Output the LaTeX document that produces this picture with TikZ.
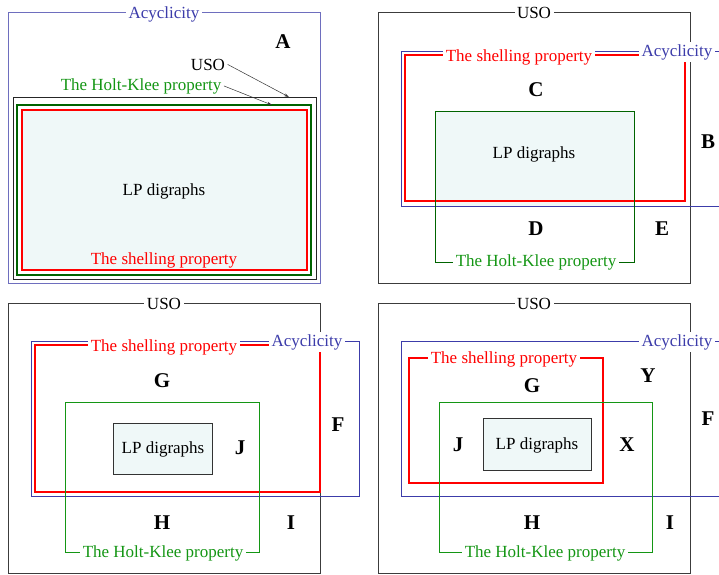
\documentclass[tikz,border=0pt]{standalone}
\usepackage{fontspec}
\setmainfont{Liberation Serif}
\usetikzlibrary{arrows.meta}
\definecolor{acyc}{RGB}{60,60,170}
\definecolor{acycl}{RGB}{110,110,190}
\definecolor{hk}{RGB}{20,150,20}
\definecolor{hkdark}{RGB}{0,100,0}
\definecolor{lpfill}{RGB}{239,248,248}
\definecolor{usog}{RGB}{60,60,60}
\tikzset{
  lbl/.style={font=\fontsize{17}{20}\selectfont, anchor=base, inner sep=2.5pt},
  lblw/.style={lbl, fill=white},
  big/.style={font=\fontsize{21}{24}\selectfont\bfseries, anchor=base, inner sep=1pt},
  acycbox/.style={draw=acycl, line width=0.9pt},
  shellbox/.style={draw=red, line width=2.4pt},
  hkbox/.style={draw=hk, line width=0.9pt},
  usobox/.style={draw=usog, line width=1pt},
  lpbox/.style={draw=black!80, line width=0.8pt, fill=lpfill},
  arr/.style={-{Stealth[length=5pt,width=3pt]}, line width=0.5pt, black!80}
}
\begin{document}
\begin{tikzpicture}[x=1pt,y=-1pt]
\clip (0,0) rectangle (719,574);
\fill[white] (0,0) rectangle (719,574);

% ---------------- Panel 1 (top-left) ----------------
\draw[acycbox] (8,12) rectangle (320,283);
\draw[black!85, line width=1pt] (13,97) rectangle (316,279);
\draw[hkdark, line width=1.8pt] (17,105) rectangle (311,275);
\fill[lpfill] (22,110) rectangle (307,270);
\draw[shellbox, line width=2.2pt] (22,110) rectangle (307,270);
\node[lblw, text=acyc] (acycA) at (164,18) {Acyclicity};
\node[big] (lA) at (283,48) {A};
\node[lbl] (usoA) at (208,70) {USO};
\node[lbl, text=hk] (hkA) at (141,90) {The Holt-Klee property};
\node[lbl] (lpA) at (164,195) {LP digraphs};
\node[lbl, text=red] (shA) at (164,264) {The shelling property};
\coordinate (usoAt) at (289,97);
\coordinate (hkAt) at (272,105);
\draw[arr] (usoA.east) -- (usoAt);
\draw[arr] (hkA.east) -- (hkAt);

% ---------------- Panel 2 (top-right) ----------------
\draw[usobox] (378,12) rectangle (690,283);
\fill[lpfill] (435,111) rectangle (634,206);
\draw[acycbox, draw=acyc] (401,51) rectangle (730,206);
\draw[shellbox] (405,55) rectangle (685,201);
\draw[hkbox, draw=hkdark] (435,111) rectangle (634,262);
\node[lblw] (usoB) at (534,18) {USO};
\node[lblw, text=red] (shB) at (519,61) {The shelling property};
\node[lblw, text=acyc] (acycB) at (677,56) {Acyclicity};
\node[lblw, text=hk] (hkB) at (536,266) {The Holt-Klee property};
\node[lbl] (lpB) at (534,158) {LP digraphs};
\node[big] (lC) at (536,96) {C};
\node[big] (lB) at (708,148) {B};
\node[big] (lD) at (536,235) {D};
\node[big] (lE) at (662,235) {E};

% ---------------- Panel 3 (bottom-left) ----------------
\draw[usobox] (8,303) rectangle (320,573);
\draw[acycbox, draw=acyc] (31,341) rectangle (359,496);
\draw[shellbox] (35,345) rectangle (320,492);
\draw[hkbox] (65,402) rectangle (259,552);
\draw[lpbox] (113,423) rectangle (212,474);
\node[lblw] (usoC) at (164,309) {USO};
\node[lblw, text=red] (shC) at (164,351) {The shelling property};
\node[lblw, text=acyc] (acycC) at (307,346) {Acyclicity};
\node[lblw, text=hk] (hkC) at (163,557) {The Holt-Klee property};
\node[lbl] (lpC) at (163,453) {LP digraphs};
\node[big] (lG) at (162,387) {G};
\node[big] (lJ) at (240,454) {J};
\node[big] (lF) at (338,431) {F};
\node[big] (lH) at (162,529) {H};
\node[big] (lI) at (291,529) {I};

% ---------------- Panel 4 (bottom-right) ----------------
\draw[usobox] (378,303) rectangle (690,573);
\draw[acycbox, draw=acyc] (401,341) rectangle (730,496);
\draw[shellbox] (409,358) rectangle (603,483);
\draw[hkbox] (439,402) rectangle (652,552);
\draw[lpbox] (483,418) rectangle (591,470);
\node[lblw] (usoD) at (534,309) {USO};
\node[lblw, text=acyc] (acycD) at (677,346) {Acyclicity};
\node[lblw, text=red] (shD) at (504,363) {The shelling property};
\node[lblw, text=hk] (hkD) at (545,557) {The Holt-Klee property};
\node[lbl] (lpD) at (537,449) {LP digraphs};
\node[big] (lY) at (648,382) {Y};
\node[big] (lG2) at (532,392) {G};
\node[big] (lJ2) at (458,451) {J};
\node[big] (lX) at (627,451) {X};
\node[big] (lF2) at (708,425) {F};
\node[big] (lH2) at (532,529) {H};
\node[big] (lI2) at (670,529) {I};
\end{tikzpicture}
\end{document}
